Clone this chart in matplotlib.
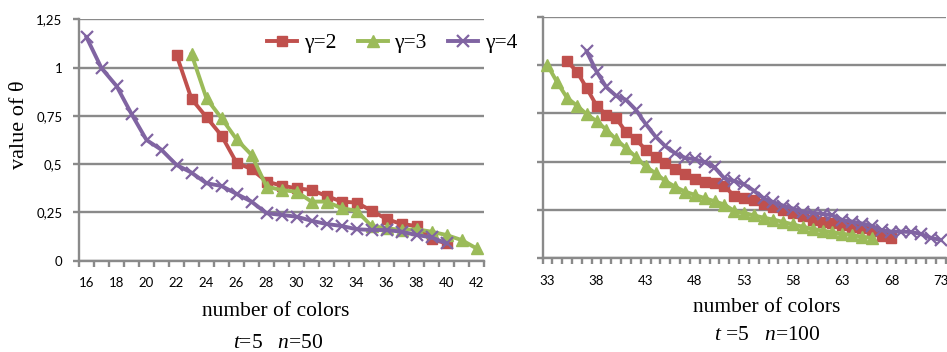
import matplotlib
matplotlib.use("Agg")
import matplotlib.pyplot as plt
from matplotlib.ticker import FixedLocator, NullFormatter

plt.rcParams['mathtext.fontset'] = 'custom'
plt.rcParams['mathtext.it'] = 'Liberation Serif:italic'
plt.rcParams['mathtext.rm'] = 'Liberation Serif'

# ---------------- data: t=5, n=50 ----------------
x50_g2 = list(range(22, 41))
y50_g2 = [1.066, 0.838, 0.743, 0.648, 0.508, 0.474, 0.41, 0.389, 0.375, 0.366,
          0.335, 0.306, 0.301, 0.259, 0.216, 0.19, 0.18, 0.111, 0.09]
x50_g3 = list(range(23, 43))
y50_g3 = [1.07, 0.84, 0.738, 0.629, 0.548, 0.384, 0.366, 0.357, 0.306, 0.306,
          0.272, 0.259, 0.18, 0.168, 0.159, 0.163, 0.15, 0.133, 0.107, 0.064]
x50_g4 = list(range(16, 41))
y50_g4 = [1.157, 0.997, 0.905, 0.76, 0.625, 0.574, 0.496, 0.456, 0.401, 0.387,
          0.346, 0.306, 0.246, 0.237, 0.228, 0.207, 0.19, 0.18, 0.163, 0.159,
          0.159, 0.15, 0.133, 0.121, 0.09]

# ---------------- data: t=5, n=100 ----------------
x100_g2 = list(range(35, 69))
y100_g2 = [1.02, 0.966, 0.88, 0.79, 0.742, 0.725, 0.652, 0.615, 0.562, 0.524,
           0.495, 0.46, 0.435, 0.408, 0.395, 0.388, 0.375, 0.322, 0.31, 0.3,
           0.28, 0.265, 0.25, 0.235, 0.218, 0.2, 0.19, 0.181, 0.172, 0.163,
           0.155, 0.14, 0.115, 0.105]
x100_g3 = list(range(33, 67))
y100_g3 = [1.0, 0.91, 0.83, 0.79, 0.745, 0.71, 0.665, 0.615, 0.57, 0.525,
           0.475, 0.44, 0.40, 0.37, 0.345, 0.328, 0.311, 0.295, 0.278, 0.245,
           0.235, 0.222, 0.21, 0.20, 0.188, 0.175, 0.163, 0.152, 0.143, 0.135,
           0.127, 0.12, 0.112, 0.105]
x100_g4 = list(range(37, 74))
y100_g4 = [1.07, 0.966, 0.885, 0.84, 0.82, 0.768, 0.695, 0.63, 0.58, 0.543,
           0.52, 0.512, 0.497, 0.47, 0.414, 0.40, 0.383, 0.35, 0.31, 0.29,
           0.272, 0.257, 0.24, 0.235, 0.23, 0.222, 0.198, 0.19, 0.18, 0.168,
           0.145, 0.138, 0.138, 0.136, 0.126, 0.106, 0.095]

yticks = [0, 0.25, 0.5, 0.75, 1, 1.25]
ytick_labels = ["0", "0,25", "0,5", "0,75", "1", "1,25"]
xlabels50 = list(range(16, 43, 2))
xlabels100 = list(range(33, 74, 5))
series_names = ["γ=2", "γ=3", "γ=4"]

RED = "#C0504D"
GREEN = "#9BBB59"
PURPLE = "#8064A2"
GRID = "#8A8A8A"

W, H = 947, 352
fig = plt.figure(figsize=(W / 100, H / 100), dpi=100)


def px_axes(x0, x1, ytop, ybot):
    return fig.add_axes([x0 / W, (H - ybot) / H, (x1 - x0) / W, (ybot - ytop) / H])


def style(ax, xmin, xmax, labels, show_ylabels):
    ax.set_xlim(xmin - 0.5, xmax + 0.5)
    ax.set_ylim(0, 1.25)
    for s in ["top", "right", "bottom"]:
        ax.spines[s].set_visible(False)
    ax.spines["left"].set_color(GRID)
    ax.spines["left"].set_linewidth(1.7)
    ax.spines["left"].set_zorder(1)
    ax.set_yticks(yticks)
    if show_ylabels:
        ax.set_yticklabels(ytick_labels)
    else:
        ax.set_yticklabels([])
    ax.yaxis.grid(True, color=GRID, linewidth=1.7, zorder=0)
    ax.set_axisbelow(True)
    ax.tick_params(axis="y", length=4, width=1.7, color=GRID, pad=8,
                   labelsize=9.5, labelcolor="#000000")
    ax.set_xticks(labels)
    ax.set_xticklabels([str(v) for v in labels])
    ax.xaxis.set_minor_locator(FixedLocator([v + 0.5 for v in range(xmin - 1, xmax + 1)]))
    ax.xaxis.set_minor_formatter(NullFormatter())
    ax.tick_params(axis="x", which="major", length=0, pad=12, labelsize=9.5)
    ax.tick_params(axis="x", which="minor", length=4, width=1.7, color=GRID)
    for lbl in ax.get_xticklabels() + ax.get_yticklabels():
        lbl.set_fontfamily("Lato")


def draw(ax, xs, ys):
    handles = []
    specs = [(RED, "s", 7.8, 1.0), (GREEN, "^", 8.6, 1.0), (PURPLE, "x", 8, 1.6)]
    for (x, y), (c, m, ms, mew), name in zip(zip(xs, ys), specs, series_names):
        h, = ax.plot(x, y, color=c, marker=m, markersize=ms, markeredgewidth=mew,
                     markeredgecolor=c, markerfacecolor=c, linewidth=2.8,
                     label=name, clip_on=False, zorder=3)
        handles.append(h)
    ax.axhline(0, color=GRID, linewidth=1.7, zorder=1, clip_on=False)
    return handles


ax1 = px_axes(79, 484, 19.3, 260.7)
style(ax1, 16, 42, xlabels50, True)
handles = draw(ax1, [x50_g2, x50_g3, x50_g4], [y50_g2, y50_g3, y50_g4])

ax2 = px_axes(542.5, 945.5, 16.7, 258.3)
style(ax2, 33, 73, xlabels100, False)
draw(ax2, [x100_g2, x100_g3, x100_g4], [y100_g2, y100_g3, y100_g4])

serif = "Liberation Serif"
fig.text(19 / W, 1 - 125 / H, "value of θ", rotation=90, ha="center", va="center",
         fontsize=16, family=serif)
fig.text(276 / W, 1 - 312 / H, "number of colors", ha="center", va="center",
         fontsize=15.5, family=serif)
fig.text(767 / W, 1 - 307 / H, "number of colors", ha="center", va="center",
         fontsize=15.5, family=serif)
fig.text(278 / W, 1 - 344 / H, "$t$=5   $n$=50", ha="center", va="center",
         fontsize=15.5, family=serif)
fig.text(767 / W, 1 - 336 / H, "$t$ =5   $n$=100", ha="center", va="center",
         fontsize=15.5, family=serif)

fig.legend(handles=handles, labels=series_names, loc="center left",
           bbox_to_anchor=(267 / W, 1 - 43 / H), ncol=3, frameon=False,
           prop={"family": serif, "size": 15.5}, handlelength=1.4,
           handletextpad=0.3, columnspacing=1.0, borderpad=0, borderaxespad=0)

fig.savefig("out.png", dpi=100, facecolor="white")
